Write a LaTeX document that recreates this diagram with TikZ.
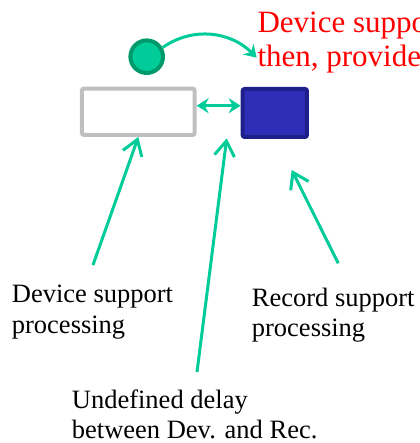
\documentclass[tikz,border=0pt]{standalone}
\usepackage{fontspec}
\setmainfont{Liberation Serif}
\usetikzlibrary{arrows.meta}
\definecolor{tealc}{RGB}{0,204,153}
\definecolor{ringc}{RGB}{0,153,107}
\definecolor{grayc}{RGB}{191,191,191}
\definecolor{bluef}{RGB}{46,46,184}
\definecolor{blued}{RGB}{31,31,140}
\begin{document}
\begin{tikzpicture}[x=1pt,y=1pt,
  conn/.style={draw=tealc, line width=3pt},
  ptr/.style={conn, -{Straight Barb[length=15pt,width=20pt]}},
  stl/.style={conn, -{Stealth[length=12pt,width=15pt,inset=4pt]}},
  dbl/.style={conn, {Stealth[length=12pt,width=15pt,inset=4pt]}-{Stealth[length=12pt,width=15pt,inset=4pt]}},
  lbl/.style={anchor=base west, inner sep=0pt, font=\fontsize{26.5}{31}\selectfont, text=black},
  redlbl/.style={anchor=base west, inner sep=0pt, font=\fontsize{31}{36}\selectfont, text=red},
  boxc/.style={rectangle, line width=4pt, inner sep=0pt, rounded corners=2pt}
]
\useasboundingbox (0,0) rectangle (419,-443);
\clip (0,0) rectangle (419,-443);

% shapes
\node[circle, fill=tealc, draw=ringc, line width=4pt, minimum size=32.6pt, inner sep=0pt] (dot) at (146.7,-56.7) {};
\node[boxc, draw=grayc, fill=white, minimum width=112.7pt, minimum height=46.3pt] (dev) at (138.3,-111.8) {};
\node[boxc, draw=blued, fill=bluef, minimum width=64.3pt, minimum height=48pt] (rec) at (274.8,-113) {};

% red text (cut off at the right edge, as in the reference)
\node[redlbl] (r1) at (257.3,-32.3) {Device support};
\node[redlbl] (r2) at (257.3,-67) {then, provides};

% labels
\node[lbl] (d1) at (11.7,-302.3) {Device support};
\node[lbl] (d2) at (11.7,-333.3) {processing};
\node[lbl] (s1) at (251.7,-306.7) {Record support};
\node[lbl] (s2) at (251.7,-336.7) {processing};
\node[lbl] (u1) at (71.7,-408.3) {Undefined delay};
\node[lbl] (u2) at (71.7,-438.3) {between Dev. and Rec.};

% coordinates
\coordinate (arcend) at (256.7,-57.7);
\coordinate (t1) at (93,-265);
\coordinate (t2) at (197,-372);
\coordinate (h2) at (226.7,-138.3);
\coordinate (t3) at (338.3,-263.3);
\coordinate (h3) at (291.7,-170);

% connectors
\draw[stl] (dot.30) to[out=35,in=135] (arcend);
\draw[dbl] ([yshift=6.1pt]dev.east) -- ([yshift=7.3pt]rec.west);
\draw[ptr] (t1) -- (dev.south);
\draw[ptr] (t2) -- (h2);
\draw[ptr] (t3) -- (h3);
\end{tikzpicture}
\end{document}
